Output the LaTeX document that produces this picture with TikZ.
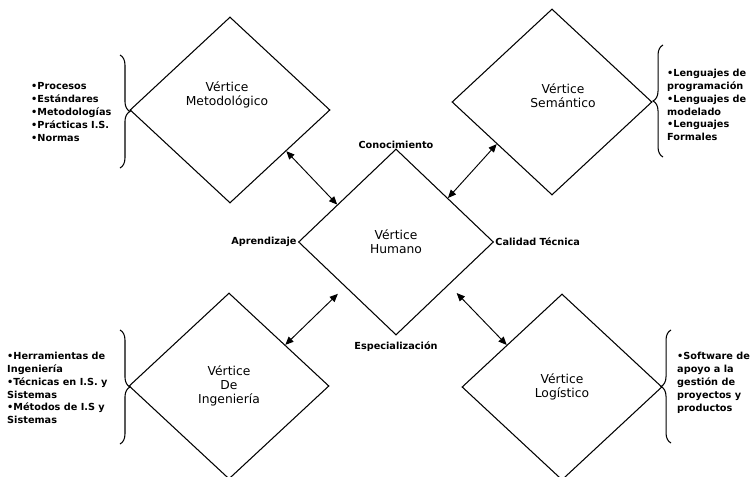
\documentclass[tikz,border=0pt]{standalone}
\usepackage{fontspec}
\setmainfont{DejaVu Sans}
\usepackage{tikz}
\usetikzlibrary{shapes.geometric, arrows.meta, positioning, calc, decorations.pathreplacing}

\begin{document}
\begin{tikzpicture}[x=0.03cm, y=-0.03cm,
    vertice/.style={diamond, draw, line width=0.9pt, minimum width=6cm,
      minimum height=5.58cm, inner sep=0pt, align=center,
      font=\fontsize{10.5}{12}\selectfont},
    vtexto/.style={align=center, inner sep=0pt, font=\fontsize{10.5}{12}\selectfont},
    lista/.style={anchor=west, align=left, inner sep=0pt,
      font=\bfseries\fontsize{8.3}{11}\selectfont},
    relacion/.style={inner sep=1pt, font=\bfseries\fontsize{8.3}{10}\selectfont},
    llave/.style={decorate, decoration={brace, amplitude=8.5pt, aspect=#1},
      line width=0.9pt},
    flecha/.style={{Triangle[length=7pt,width=6pt]}-{Triangle[length=7pt,width=6pt]},
      line width=0.8pt}]
    \useasboundingbox (0,0) rectangle (754,477);
    \clip (0,0) rectangle (754,477);

    % vertices
    \node[vertice] (met) at (230,110) {};
    \node[vtexto] (mett) at (227,95) {Vértice\\Metodológico};
    \node[vertice] (sem) at (552,102) {};
    \node[vtexto] (semt) at (563,96) {Vértice\\Semántico};
    \node[vertice, minimum width=5.85cm] (hum) at (396,242) {Vértice\\Humano};
    \node[vertice] (ing) at (229,386) {Vértice\\De\\Ingeniería};
    \node[vertice] (log) at (562,387) {Vértice\\Logístico};

    % relaciones del vertice humano
    \node[relacion, above=-1pt of hum.north] (con) {Conocimiento};
    \node[relacion, left=0pt of hum.west] (apr) {Aprendizaje};
    \node[relacion, right=0pt of hum.east] (cal) {Calidad Técnica};
    \node[relacion, below=4pt of hum.south] (esp) {Especialización};

    % flechas
    \coordinate (a1) at ($(met.east)!0.44!(met.south)$);
    \coordinate (b1) at ($(hum.west)!0.40!(hum.north)$);
    \coordinate (a2) at ($(sem.west)!0.45!(sem.south)$);
    \coordinate (b2) at ($(hum.north)!0.53!(hum.east)$);
    \coordinate (a3) at ($(hum.west)!0.48!(hum.south)$);
    \coordinate (b3) at ($(ing.north)!0.56!(ing.east)$);
    \coordinate (a4) at ($(hum.south)!0.54!(hum.east)$);
    \coordinate (b4) at ($(log.west)!0.45!(log.north)$);
    \draw[flecha] (a1) -- (b1);
    \draw[flecha] (a2) -- (b2);
    \draw[flecha, shorten <=8.5pt] (a3) -- (b3);
    \draw[flecha, shorten <=9.5pt] (a4) -- (b4);

    % listas
    \node[lista] (metl) at (31,112) {•Procesos\\•Estándares\\•Metodologías\\%
      •Prácticas I.S.\\•Normas};
    \node[lista] (seml) at (667,105) {•Lenguajes de\\programación\\%
      •Lenguajes de\\modelado\\•Lenguajes\\Formales};
    \node[lista] (ingl) at (7,388) {•Herramientas de\\Ingeniería\\%
      •Técnicas en I.S. y\\Sistemas\\•Métodos de I.S y\\Sistemas};
    \node[lista] (logl) at (677,383) {•Software de\\apoyo a la\\gestión de\\%
      proyectos y\\productos};

    % llaves
    \draw[llave=0.5] (120,55) -- (120,168);
    \draw[llave=0.5] (663,157) -- (663,45);
    \draw[llave=0.5] (120,330) -- (120,444);
    \draw[llave=0.5] (671,443) -- (671,330);
  \end{tikzpicture}
\end{document}
